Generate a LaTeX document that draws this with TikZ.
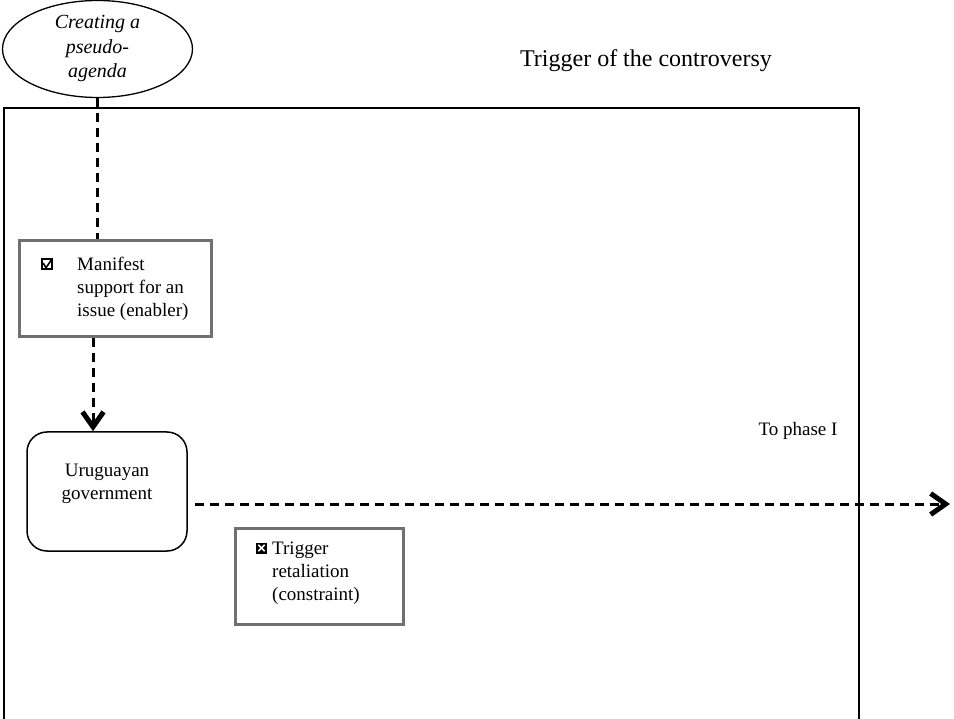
\documentclass[tikz,border=0pt]{standalone}
\usepackage{fontspec}
\setmainfont{Liberation Serif}
\usetikzlibrary{arrows.meta,shapes.geometric}
\definecolor{boxgray}{HTML}{707070}
\begin{document}
\begin{tikzpicture}[x=1pt,y=-1pt,
  bodytext/.style={font=\fontsize{19}{23}\selectfont, inner sep=0pt, align=left},
  conn/.style={line width=3pt, dash pattern=on 9pt off 6pt},
  chevron/.style={-{Straight Barb[length=15pt,width=21pt,line width=5pt]}},
  graybox/.style={draw=boxgray, line width=3pt, fill=white, inner sep=0pt},
]
\useasboundingbox (0,0) rectangle (954,719);
% outer frame
\draw[line width=2pt] (4,108) rectangle (859,730);
\node[font=\fontsize{24}{28}\selectfont] (title) at (646,61) {Trigger of the controversy};

% ellipse
\node[ellipse, draw, line width=1.3pt, minimum width=190pt, minimum height=97pt, inner sep=0pt,
  align=center, font=\itshape\fontsize{20}{24.5}\selectfont] (agenda) at (97.5,49)
  {Creating a\\pseudo-\\agenda};

% manifest box
\node[graybox, minimum width=192pt, minimum height=96pt] (manifest) at (115,289) {};
\node[draw, line width=1.6pt, minimum size=10pt, inner sep=0pt] (chk) at (47,264) {};
\draw[line width=1.6pt] ([xshift=2pt,yshift=1pt]chk.west) -- ([xshift=-1pt,yshift=2pt]chk.south) -- ([xshift=-1pt,yshift=-1pt]chk.north east);
\node[bodytext, anchor=base west] (mtext) at (77,317) {Manifest\\support for an\\issue (enabler)};

% government
\node[draw, line width=1.5pt, rounded corners=20pt, minimum width=160pt, minimum height=119pt] (gov) at (107,491.5) {};
\node[font=\fontsize{19}{23}\selectfont, align=center, inner sep=0pt] (govtext) at ([yshift=7.5pt]gov.center) {Uruguayan\\government};

% trigger box
\node[graybox, minimum width=168pt, minimum height=96pt] (trig) at (319,576) {};
\node[fill=black, minimum size=11pt, inner sep=0pt] (xbox) at (261.5,548) {};
\draw[white, line width=1.5pt] ([xshift=2.5pt,yshift=-2.5pt]xbox.north west) -- ([xshift=-2.5pt,yshift=2.5pt]xbox.south east);
\draw[white, line width=1.5pt] ([xshift=-2.5pt,yshift=-2.5pt]xbox.north east) -- ([xshift=2.5pt,yshift=2.5pt]xbox.south west);
\node[bodytext, anchor=base west] (ttext) at (272,600) {Trigger\\retaliation\\(constraint)};

\node[font=\fontsize{19}{23}\selectfont] (phase) at (798,431) {To phase I};

% connectors
\coordinate (dcol) at (93,0);
\draw[conn] (agenda.south) -- (agenda.south |- manifest.north);
\draw[conn, chevron] (manifest.south -| dcol) -- (gov.north -| dcol);
\coordinate (hstart) at (195,504);
\coordinate (hend) at (950,504);
\draw[conn, chevron] (hstart) -- (hend);
\end{tikzpicture}
\end{document}
